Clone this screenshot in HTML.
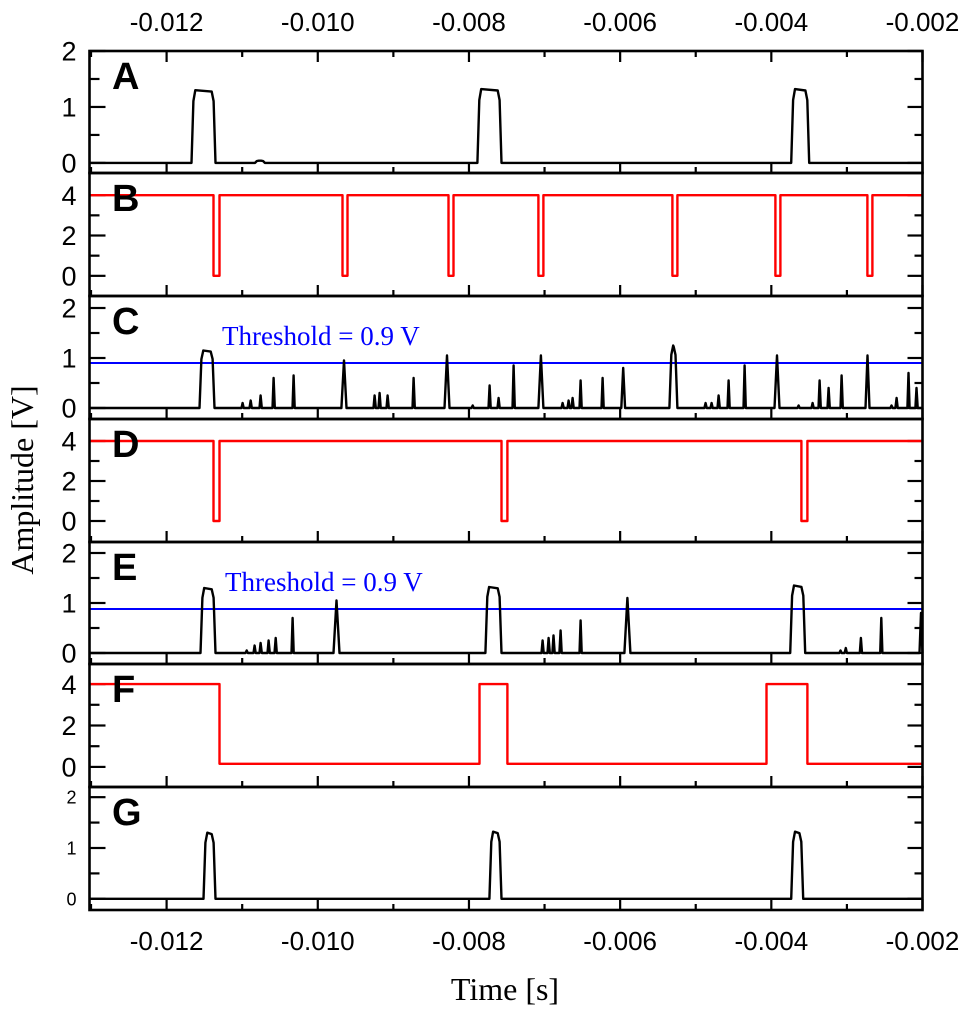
<!DOCTYPE html>
<html><head><meta charset="utf-8">
<style>
html,body{margin:0;padding:0;background:#fff;}
svg{display:block;}
text{font-family:"Liberation Sans",Arial,sans-serif;}
</style></head>
<body>
<svg id="chart" width="972" height="1013" viewBox="0 0 972 1013" xmlns="http://www.w3.org/2000/svg"></svg>
<script>
// ---- data ----
const xTicksMajor = [-0.012,-0.010,-0.008,-0.006,-0.004,-0.002];
const xTickLabels = ["-0.012","-0.010","-0.008","-0.006","-0.004","-0.002"];
const xTicksMinor = [-0.013,-0.011,-0.009,-0.007,-0.005,-0.003];

const aStart  = [-0.011671,-0.010830,-0.007888,-0.003737];
const aEnd    = [-0.011353,-0.010700,-0.007570,-0.003499];
const aHeight = [1.30,0.04,1.32,1.32];

const bDipStart = [-0.011380,-0.009673,-0.008271,-0.007081,-0.005308,-0.003946,-0.002729];
const bDipEnd   = [-0.011300,-0.009607,-0.008205,-0.007015,-0.005242,-0.003880,-0.002663];

const cStart  = [-0.011565,-0.011009,-0.010903,-0.010771,-0.010599,-0.010335,-0.009687,-0.009263,-0.009197,-0.009091,-0.008747,-0.008323,-0.007966,-0.007742,-0.007623,-0.007424,-0.007081,-0.006776,-0.006697,-0.006644,-0.006538,-0.006247,-0.005985,-0.005348,-0.004885,-0.004805,-0.004712,-0.004580,-0.004368,-0.003958,-0.003654,-0.003469,-0.003376,-0.003257,-0.003085,-0.002754,-0.002425,-0.002358,-0.002200,-0.002094];
const cEnd    = [-0.011366,-0.010980,-0.010873,-0.010741,-0.010569,-0.010305,-0.009620,-0.009233,-0.009167,-0.009061,-0.008717,-0.008257,-0.007936,-0.007712,-0.007593,-0.007394,-0.007015,-0.006746,-0.006667,-0.006614,-0.006508,-0.006217,-0.005935,-0.005242,-0.004855,-0.004775,-0.004682,-0.004550,-0.004338,-0.003892,-0.003624,-0.003439,-0.003346,-0.003227,-0.003055,-0.002701,-0.002395,-0.002328,-0.002170,-0.002064];
const cHeight = [1.15,0.10,0.15,0.25,0.60,0.65,0.95,0.25,0.30,0.25,0.60,1.05,0.05,0.45,0.20,0.85,1.05,0.10,0.15,0.20,0.55,0.60,0.80,1.25,0.10,0.10,0.25,0.55,0.85,1.05,0.05,0.10,0.55,0.40,0.65,1.05,0.05,0.20,0.70,0.40];
const cThreshold = 0.9;

const dDipStart = [-0.011380,-0.007570,-0.003602];
const dDipEnd   = [-0.011300,-0.007491,-0.003523];

const eStart  = [-0.011552,-0.010956,-0.010851,-0.010771,-0.010665,-0.010572,-0.010348,-0.009792,-0.007783,-0.007041,-0.006961,-0.006896,-0.006803,-0.006538,-0.005944,-0.003750,-0.003100,-0.003030,-0.002830,-0.002560,-0.002040];
const eEnd    = [-0.011353,-0.010926,-0.010821,-0.010741,-0.010635,-0.010542,-0.010318,-0.009713,-0.007570,-0.007011,-0.006931,-0.006866,-0.006773,-0.006508,-0.005864,-0.003552,-0.003070,-0.003000,-0.002800,-0.002530,-0.002000];
const eHeight = [1.30,0.05,0.15,0.20,0.25,0.30,0.70,1.05,1.32,0.25,0.30,0.35,0.45,0.65,1.10,1.35,0.05,0.10,0.30,0.70,0.80];
const eThreshold = 0.88;

const fHighStart = [-0.01302,-0.007861,-0.004064];
const fHighEnd   = [-0.011300,-0.007491,-0.003523];
const fHigh = 4.0, fLow = 0.15;

const gStart  = [-0.011512,-0.007730,-0.003737];
const gEnd    = [-0.011353,-0.007570,-0.003578];
const gHeight = [1.30,1.32,1.32];

// ---- layout ----
const NS="http://www.w3.org/2000/svg";
const svg=document.getElementById('chart');
const X0=89.5, X1=922.5, xMin=-0.01302, xMax=-0.002;
function xs(t){return X0+(t-xMin)/(xMax-xMin)*(X1-X0);}
const panels=[
 {id:'a',letter:'A',top:51,bot:173,yMin:-0.18,yMax:2.0,maj:[0,1,2],min:[0.5,1.5],fs:27},
 {id:'b',letter:'B',top:173,bot:296,yMin:-1.0,yMax:5.1,maj:[0,2,4],min:[1,3],fs:27},
 {id:'c',letter:'C',top:296,bot:419,yMin:-0.22,yMax:2.24,maj:[0,1,2],min:[0.5,1.5],fs:27},
 {id:'d',letter:'D',top:419,bot:542,yMin:-1.05,yMax:5.1,maj:[0,2,4],min:[1,3],fs:27},
 {id:'e',letter:'E',top:542,bot:664,yMin:-0.22,yMax:2.22,maj:[0,1,2],min:[0.5,1.5],fs:27},
 {id:'f',letter:'F',top:664,bot:787,yMin:-0.97,yMax:4.97,maj:[0,2,4],min:[1,3],fs:27},
 {id:'g',letter:'G',top:787,bot:910,yMin:-0.22,yMax:2.2,maj:[0,1,2],min:[0.5,1.5],fs:18}
];
function ysF(p){return v=>p.bot-(v-p.yMin)/(p.yMax-p.yMin)*(p.bot-p.top);}
function el(tag,attrs,parent){const e=document.createElementNS(NS,tag);for(const k in attrs)e.setAttribute(k,attrs[k]);(parent||svg).appendChild(e);return e;}

function pulsePath(starts,ends,heights,base,ys){
  const r=0.000025;
  let pts=[[xMin,base]];
  const idx=starts.map((s,i)=>i).sort((a,b)=>starts[a]-starts[b]);
  idx.forEach(i=>{
    const s=starts[i],e=ends[i],h=heights[i];
    if(e-s<4*r){pts.push([s,base],[(s+e)/2,base+h],[e,base]);}
    else{pts.push([s,base],[s+r,base+h*0.85],[s+2*r,base+h],[e-2*r,base+h*0.98],[e-r,base+h*0.85],[e,base]);}
  });
  pts.push([xMax,base]);
  return 'M'+pts.map(p=>xs(p[0]).toFixed(1)+','+ys(p[1]).toFixed(1)).join('L');
}
function dipPath(starts,ends,hi,lo,ys){
  let pts=[[xMin,hi]];
  starts.forEach((s,i)=>{pts.push([s,hi],[s,lo],[ends[i],lo],[ends[i],hi]);});
  pts.push([xMax,hi]);
  return 'M'+pts.map(p=>xs(p[0]).toFixed(1)+','+ys(p[1]).toFixed(1)).join('L');
}
function stepPath(starts,ends,hi,lo,ys){
  let pts=[];
  starts.forEach((s,i)=>{
    if(i===0&&s<=xMin)pts.push([xMin,hi]);else pts.push([s,lo],[s,hi]);
    pts.push([ends[i],hi],[ends[i],lo]);
  });
  pts.push([xMax,lo]);
  return 'M'+pts.map(p=>xs(p[0]).toFixed(1)+','+ys(p[1]).toFixed(1)).join('L');
}

panels.forEach(p=>{
  const ys=ysF(p);
  const g=el('g',{});
  
  
  // y ticks
  p.maj.forEach(v=>{
    el('line',{x1:X0,x2:X0+16,y1:ys(v),y2:ys(v),stroke:'#000','stroke-width':2.2},g);
    el('line',{x1:X1,x2:X1-15,y1:ys(v),y2:ys(v),stroke:'#000','stroke-width':2.2},g);
    const t=el('text',{x:X0-13,y:ys(v)+p.fs*0.36,'text-anchor':'end','font-size':p.fs},g);
    t.textContent=String(v);
    
    
  });
  p.min.forEach(v=>{
    el('line',{x1:X0,x2:X0+10,y1:ys(v),y2:ys(v),stroke:'#000','stroke-width':2.2},g);
    el('line',{x1:X1,x2:X1-8,y1:ys(v),y2:ys(v),stroke:'#000','stroke-width':2.2},g);
  });
  // x ticks (bottom of each panel)
  xTicksMajor.forEach(t=>{el('line',{x1:xs(t),x2:xs(t),y1:p.bot,y2:p.bot-11,stroke:'#000','stroke-width':2.2},g);});
  xTicksMinor.forEach(t=>{el('line',{x1:xs(t),x2:xs(t),y1:p.bot,y2:p.bot-6,stroke:'#000','stroke-width':2.2},g);});
  if(p.id==='a'){
    xTicksMajor.forEach(t=>{el('line',{x1:xs(t),x2:xs(t),y1:p.top,y2:p.top+11,stroke:'#000','stroke-width':2.2},g);});
    xTicksMinor.forEach(t=>{el('line',{x1:xs(t),x2:xs(t),y1:p.top,y2:p.top+6,stroke:'#000','stroke-width':2.2},g);});
  }
  // threshold
  if(p.id==='c'||p.id==='e'){
    const th=p.id==='c'?cThreshold:eThreshold;
    const ln=el('line',{x1:X0,x2:X1,y1:ys(th),y2:ys(th),stroke:'#0000ff','stroke-width':2},g);
    
    
    const tt=el('text',{x:p.id==='c'?222:225,y:ys(th)-18,fill:'#0000ff','font-size':27,style:'font-family:"Liberation Serif",serif'},g);
    tt.textContent='Threshold = 0.9 V';
    
    
  }
  // series
  let d,color='#000';
  if(p.id==='a')d=pulsePath(aStart,aEnd,aHeight,0,ys);
  if(p.id==='b'){d=dipPath(bDipStart,bDipEnd,4,0,ys);color='#ff0000';}
  if(p.id==='c')d=pulsePath(cStart,cEnd,cHeight,0,ys);
  if(p.id==='d'){d=dipPath(dDipStart,dDipEnd,4,0,ys);color='#ff0000';}
  if(p.id==='e')d=pulsePath(eStart,eEnd,eHeight,0,ys);
  if(p.id==='f'){d=stepPath(fHighStart,fHighEnd,fHigh,fLow,ys);color='#ff0000';}
  if(p.id==='g')d=pulsePath(gStart,gEnd,gHeight,0,ys);
  const path=el('path',{d:d,fill:'none',stroke:color,'stroke-width':2.4,'stroke-linejoin':'round'},g);
  
  
  // frame
  const fr=el('rect',{x:X0,y:p.top,width:X1-X0,height:p.bot-p.top,fill:'none',stroke:'#000','stroke-width':2.6},g);
  
  
  // letter
  const L=el('text',{x:112,y:p.top+38,'font-size':38,'font-weight':'bold'},g);
  L.textContent=p.letter;
  
  
});

// x tick labels top and bottom
xTicksMajor.forEach((t,i)=>{
  const a=el('text',{x:xs(t),y:31,'text-anchor':'middle','font-size':26});
  a.textContent=xTickLabels[i];
  
  
  const b=el('text',{x:xs(t),y:950,'text-anchor':'middle','font-size':26});
  b.textContent=xTickLabels[i];
  
  
});
const xt=el('text',{x:505,y:1000,'text-anchor':'middle','font-size':32,style:'font-family:"Liberation Serif",serif'});
xt.textContent='Time [s]';


const yt=el('text',{x:0,y:0,'text-anchor':'middle','font-size':32,transform:'translate(33,480) rotate(-90)',style:'font-family:"Liberation Serif",serif'});
yt.textContent='Amplitude [V]';


</script>
</body></html>
